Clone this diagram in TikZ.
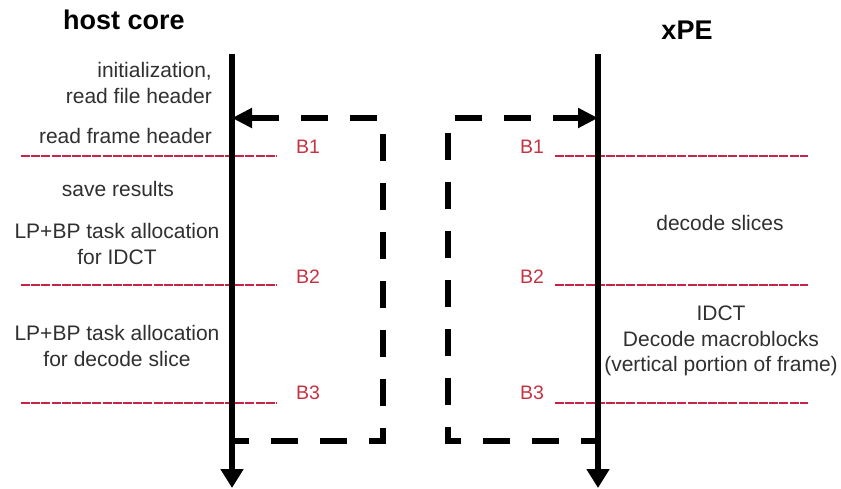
\documentclass[tikz,border=0pt]{standalone}
\usepackage{fontspec}
\setmainfont{Liberation Sans}
\usetikzlibrary{arrows.meta}
\definecolor{txtgray}{RGB}{48,48,48}
\definecolor{barred}{RGB}{196,52,66}
\definecolor{barline}{RGB}{200,36,72}
\begin{document}
\begin{tikzpicture}[x=1pt,y=-1pt,
  title/.style={font=\fontsize{27}{30}\selectfont\bfseries, inner sep=0pt},
  note/.style={font=\fontsize{21}{25.5}\selectfont, text=txtgray, inner sep=0pt},
  barlabel/.style={font=\fontsize{19.5}{22}\selectfont, text=barred, inner sep=0pt},
  timeline/.style={line width=5.5pt, -{Triangle[length=19pt,width=22pt]}},
  barrier/.style={barline, line width=1.3pt, dash pattern=on 9pt off 1.2pt},
  sync/.style={line width=6pt, dash pattern=on 27pt off 22pt},
  synctip/.style={-{Triangle[length=20pt,width=19pt]}}]
\useasboundingbox[fill=white] (0,0) rectangle (841,488);

% column headings
\node[title] (hosttitle) at (124,20) {host core};
\node[title] (xpetitle) at (687,30) {xPE};

% time lines
\coordinate (hostTop) at (232,54);
\coordinate (hostBot) at (232,488);
\coordinate (xpeTop) at (598,54);
\coordinate (xpeBot) at (598,488);

% barrier lines (drawn first, under the time lines)
\foreach \n/\y in {1/156,2/285,3/403}{
  \coordinate (hl\n) at (21,\y);
  \coordinate (hr\n) at (277,\y);
  \coordinate (xl\n) at (555,\y);
  \coordinate (xr\n) at (808,\y);
  \draw[barrier] (hl\n) -- (hr\n);
  \draw[barrier] (xl\n) -- (xr\n);
}
\node[barlabel] (hb1) at (308,147) {B1};
\node[barlabel] (hb2) at (308,277) {B2};
\node[barlabel] (hb3) at (308,393) {B3};
\node[barlabel] (xb1) at (532,147) {B1};
\node[barlabel] (xb2) at (532,277) {B2};
\node[barlabel] (xb3) at (532,393) {B3};

\draw[timeline] (hostTop) -- (hostBot);
\draw[timeline] (xpeTop) -- (xpeBot);

% host core activities
\node[note, align=right, anchor=east] (init) at (212,83) {initialization,\\read file header};
\node[note, anchor=east] (rfh) at (212,136) {read frame header};
\node[note] (save) at (118,189) {save results};
\node[note, align=center] (alloc1) at (117,244) {LP+BP task allocation\\for IDCT};
\node[note, align=center] (alloc2) at (117,346) {LP+BP task allocation\\for decode slice};

% xPE activities
\node[note] (dec) at (720,223) {decode slices};
\node[note, align=center] (idct) at (721,341) {IDCT\\Decode macroblocks\\(vertical portion of frame)};

% synchronisation brackets
\coordinate (hsTop) at (232,118);
\coordinate (hsBot) at (232,441);
\coordinate (lbTop) at (383,118);
\coordinate (lbBot) at (383,441);
\coordinate (xsTop) at (598,118);
\coordinate (xsBot) at (598,441);
\coordinate (rbTop) at (448,118);
\coordinate (rbBot) at (448,441);

\draw[sync, dash phase=10pt] (hsBot) -- (lbBot) -- (lbTop) -- (hsTop);
\draw[synctip, line width=6pt] ([xshift=22pt]hsTop) -- (hsTop);
\draw[sync, dash phase=10pt] (xsBot) -- (rbBot) -- (rbTop) -- (xsTop);
\draw[synctip, line width=6pt] ([xshift=-22pt]xsTop) -- (xsTop);
\end{tikzpicture}
\end{document}
